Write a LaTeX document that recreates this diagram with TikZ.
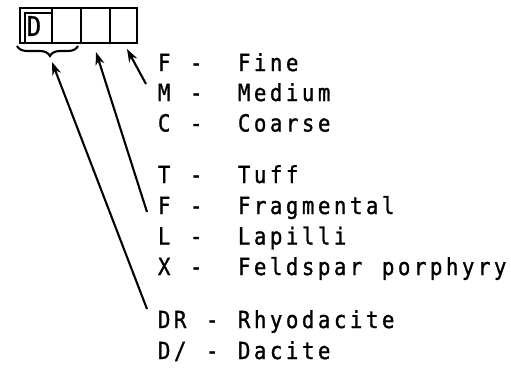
\documentclass[tikz,border=0pt]{standalone}
\usepackage{fontspec}
\newfontfamily\typew[FakeStretch=0.88,FakeBold=1.2]{DejaVu Sans Mono}
\usetikzlibrary{arrows.meta,decorations.pathreplacing}
\makeatletter
\def\mytw#1{\mytw@i#1\relax}
\def\mytw@i#1{\ifx#1\relax\else\makebox[16pt][c]{#1}\expandafter\mytw@i\fi}
\makeatother
\tikzset{
  txt/.style={anchor=base west,inner sep=0pt,font=\typew\fontsize{23.5}{23.5}\selectfont},
  cellbox/.style={draw,line width=2.3pt,inner sep=0pt,minimum height=35pt},
  arr/.style={line width=2.1pt,-{Stealth[length=13pt,width=9pt]}},
}
\begin{document}
\begin{tikzpicture}[x=1pt,y=-1pt]
\useasboundingbox (0,0) rectangle (511,368);
% cells
\draw[line width=2.3pt] (20,8) rectangle (137,43);
\node[cellbox,minimum width=27pt,minimum height=30pt] (c1) at (38.5,28) {};
\node[cellbox,minimum width=29pt] (c2) at (66.5,25.5) {};
\node[cellbox,minimum width=29pt] (c3) at (95.5,25.5) {};
\node[cellbox,minimum width=27pt] (c4) at (123.5,25.5) {};
\node[inner sep=0pt,font=\typew\fontsize{27}{27}\selectfont] (dl) at (34,26) {D};
% brace
\draw[line width=2.1pt,decorate,decoration={brace,amplitude=10pt,aspect=0.46}] (78,46) -- (17,46);
% text rows
\node[txt] (r1) at (156,71) {\mytw{F~-~~Fine}};
\node[txt] (r2) at (156,101) {\mytw{M~-~~Medium}};
\node[txt] (r3) at (156,131.5) {\mytw{C~-~~Coarse}};
\node[txt] (r4) at (156,183) {\mytw{T~-~~Tuff}};
\node[txt] (r5) at (156,214) {\mytw{F~-~~Fragmental}};
\node[txt] (r6) at (156,244.5) {\mytw{L~-~~Lapilli}};
\node[txt] (r7) at (156,275) {\mytw{X~-~~Feldspar~porphyry}};
\node[txt] (r8) at (156,328) {\mytw{DR~-~Rhyodacite}};
\node[txt] (r9) at (156,359) {\mytw{D/~-~Dacite}};
% arrows
\coordinate (t1) at (146,84);  \coordinate (h1) at (127,49);
\coordinate (t2) at (147,212); \coordinate (h2) at (96,52);
\coordinate (t3) at (147,309); \coordinate (h3) at (52,62);
\draw[arr] (t1) -- (h1);
\draw[arr] (t2) -- (h2);
\draw[arr] (t3) -- (h3);
\end{tikzpicture}
\end{document}
